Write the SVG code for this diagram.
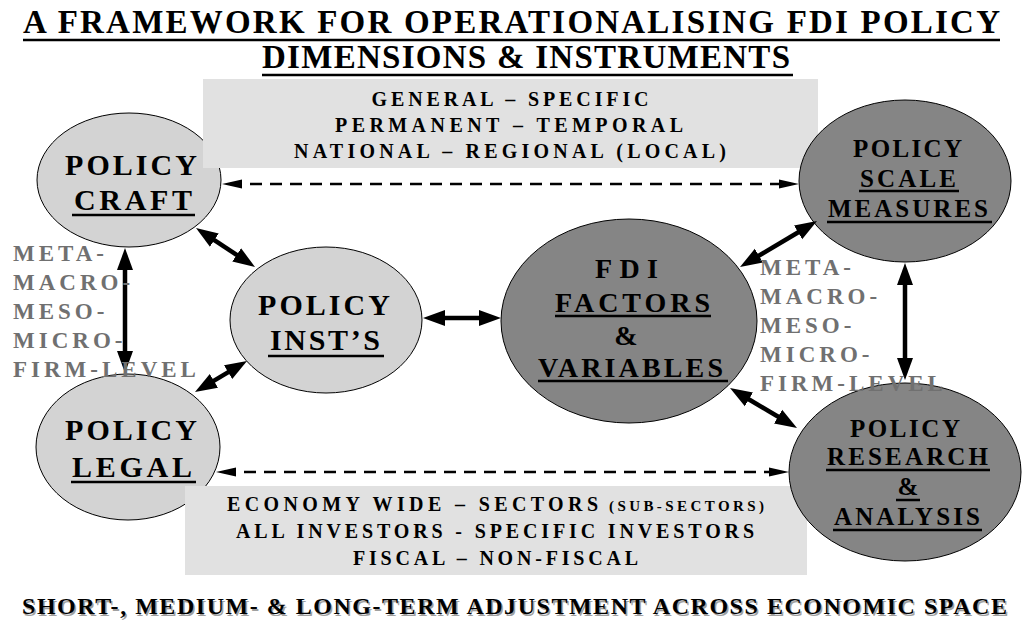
<svg xmlns="http://www.w3.org/2000/svg" width="1026" height="621" viewBox="0 0 1026 621">
<style>
.t{font-family:"Liberation Serif","Times New Roman",serif;font-weight:bold;fill:#000}
.title{font-size:33px}
.box{font-size:20px;text-anchor:middle}
.nl{font-size:30px;text-anchor:middle}
.nf{font-size:28px;text-anchor:middle}
.ns{font-size:25px;text-anchor:middle}
.side{font-size:23px;letter-spacing:4px;fill:#707070}
.ul{stroke:#000;stroke-width:2.5}
.light{fill:#d3d3d3;stroke:#000;stroke-width:1}
.dark{fill:#858585;stroke:#000;stroke-width:1}
.panel{fill:#e1e1e1}
.thick{stroke:#000;stroke-width:4.5;fill:none;marker-start:url(#big);marker-end:url(#big)}
.dash{stroke:#000;stroke-width:2.5;fill:none;stroke-dasharray:12 8;marker-start:url(#small);marker-end:url(#small)}
</style>
<defs>
<marker id="big" markerUnits="userSpaceOnUse" viewBox="0 0 24 18" markerWidth="24" markerHeight="18" refX="10" refY="9" orient="auto-start-reverse">
<path d="M0,1 L22,9 L0,17 z" fill="#000"/>
</marker>
<marker id="small" markerUnits="userSpaceOnUse" viewBox="0 0 22 10" markerWidth="22" markerHeight="10" refX="12" refY="5" orient="auto-start-reverse">
<path d="M0,0.5 L20,5 L0,9.5 z" fill="#000"/>
</marker>
</defs>
<rect width="1026" height="621" fill="#fff"/>

<g id="title">
<text class="t title" x="23" y="33" textLength="977">A FRAMEWORK FOR OPERATIONALISING FDI POLICY</text>
<line class="ul" x1="23" y1="40" x2="1000" y2="40"/>
<text class="t title" x="262" y="68" textLength="528">DIMENSIONS &amp; INSTRUMENTS</text>
<line class="ul" x1="262" y1="75" x2="793" y2="75"/>
</g>

<g id="node-craft">
<ellipse class="light" cx="129" cy="180" rx="92" ry="67"/>
<text class="t nl" x="131" y="175" textLength="132">POLICY</text>
<text class="t nl" x="133" y="210" textLength="118">CRAFT</text>
<line class="ul" x1="72" y1="215" x2="195" y2="215"/>
</g>

<g id="node-legal">
<ellipse class="light" cx="128" cy="447" rx="92" ry="73"/>
<text class="t nl" x="131" y="440" textLength="132">POLICY</text>
<text class="t nl" x="132" y="477" textLength="120">LEGAL</text>
<line class="ul" x1="71" y1="482" x2="196" y2="482"/>
</g>

<g id="node-inst">
<ellipse class="light" cx="326" cy="320" rx="96" ry="73"/>
<text class="t nl" x="324" y="315" textLength="132">POLICY</text>
<text class="t nl" x="325" y="350" textLength="110">INST’S</text>
<line class="ul" x1="268" y1="356" x2="384" y2="356"/>
</g>

<g id="node-fdi">
<ellipse class="dark" cx="629" cy="321" rx="128" ry="102"/>
<text class="t nf" x="626.5" y="278" textLength="63">FDI</text>
<text class="t nf" x="632.5" y="312" textLength="155">FACTORS</text>
<line class="ul" x1="555" y1="316" x2="711" y2="316"/>
<text class="t nf" x="626" y="345">&amp;</text>
<text class="t nf" x="630.5" y="377" textLength="185">VARIABLES</text>
<line class="ul" x1="538" y1="381" x2="728" y2="381"/>
</g>

<g id="panel-top">
<rect class="panel" x="203" y="79" width="615" height="89"/>
<text class="t box" x="510" y="106" textLength="277">GENERAL – SPECIFIC</text>
<text class="t box" x="509" y="132" textLength="348">PERMANENT – TEMPORAL</text>
<text class="t box" x="510" y="158" textLength="432">NATIONAL – REGIONAL (LOCAL)</text>
</g>

<g id="panel-bottom">
<rect class="panel" x="185" y="486" width="622" height="89"/>
<text class="t" x="227" y="511" font-size="20" textLength="371">ECONOMY WIDE – SECTORS</text>
<text class="t" x="609" y="511" font-size="15" textLength="155">(SUB-SECTORS)</text>
<text class="t box" x="495" y="538" textLength="518">ALL INVESTORS - SPECIFIC INVESTORS</text>
<text class="t box" x="495.5" y="565" textLength="285">FISCAL – NON-FISCAL</text>
</g>

<g id="node-scale">
<ellipse class="dark" cx="905" cy="181" rx="106" ry="81"/>
<text class="t ns" x="907.5" y="157" textLength="109">POLICY</text>
<text class="t ns" x="908" y="187" textLength="96">SCALE</text>
<line class="ul" x1="859" y1="191" x2="959" y2="191"/>
<text class="t ns" x="908" y="217" textLength="160">MEASURES</text>
<line class="ul" x1="827" y1="222" x2="992" y2="222"/>
</g>

<g id="node-research">
<ellipse class="dark" cx="905" cy="472" rx="116" ry="89"/>
<text class="t ns" x="905" y="437" textLength="110">POLICY</text>
<text class="t ns" x="907.5" y="465" textLength="161">RESEARCH</text>
<line class="ul" x1="826" y1="470" x2="990" y2="470"/>
<text class="t ns" x="908" y="495">&amp;</text>
<line class="ul" x1="896" y1="500" x2="920" y2="500"/>
<text class="t ns" x="907" y="525" textLength="146">ANALYSIS</text>
<line class="ul" x1="833" y1="530" x2="982" y2="530"/>
</g>

<g id="connectors">
<line class="dash" x1="230" y1="184" x2="791" y2="184"/>
<line class="dash" x1="224" y1="472" x2="781" y2="472"/>
<line class="thick" x1="125" y1="260" x2="125" y2="361"/>
<line class="thick" x1="905" y1="275" x2="905" y2="368"/>
<line class="thick" x1="206" y1="234.6" x2="245" y2="260.4"/>
<line class="thick" x1="236.7" y1="367.1" x2="205.3" y2="385.9"/>
<line class="thick" x1="435" y1="318" x2="489" y2="318"/>
<line class="thick" x1="750.3" y1="260.8" x2="806.7" y2="227.2"/>
<line class="thick" x1="740.3" y1="394.2" x2="786.7" y2="421.8"/>
</g>

<g id="levels-left">
<text class="t side" x="13" y="261">META-</text>
<text class="t side" x="13" y="290">MACRO-</text>
<text class="t side" x="13" y="319">MESO-</text>
<text class="t side" x="13" y="348">MICRO-</text>
<text class="t side" x="13" y="377">FIRM-LEVEL</text>
</g>

<g id="levels-right">
<text class="t side" x="760" y="275">META-</text>
<text class="t side" x="760" y="304">MACRO-</text>
<text class="t side" x="760" y="333">MESO-</text>
<text class="t side" x="760" y="362">MICRO-</text>
<text class="t side" x="760" y="391">FIRM-LEVEL</text>
</g>

<g id="footer">
<text class="t" x="23.5" y="615.5" font-size="24" style="fill:#a0a0a0" textLength="985">SHORT-, MEDIUM- &amp; LONG-TERM ADJUSTMENT ACROSS ECONOMIC SPACE</text>
<text class="t" x="22" y="614" font-size="24" textLength="985">SHORT-, MEDIUM- &amp; LONG-TERM ADJUSTMENT ACROSS ECONOMIC SPACE</text>
</g>
</svg>
